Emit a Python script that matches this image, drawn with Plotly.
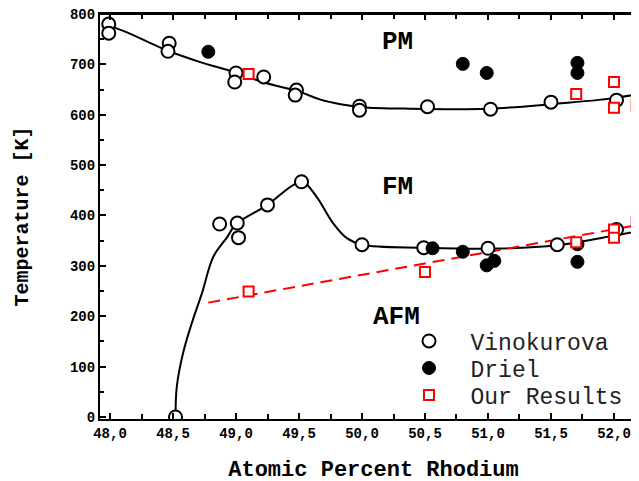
import plotly.graph_objects as go

# atomic percent Rh / temperature in K
vino_x = [47.99, 47.99, 48.47, 48.46, 49.0, 48.99, 49.22, 49.48, 49.47, 49.98, 49.98,
          50.52, 51.02, 51.5, 52.02,
          48.52, 48.87, 49.01, 49.02, 49.25, 49.52, 50.0, 50.49, 51.0, 51.55, 52.02]
vino_y = [780, 762, 742, 726, 683, 665, 675, 649, 639, 617, 609,
          616, 611, 625, 629,
          0, 383, 385, 356, 421, 467, 342, 336, 335, 342, 372]

driel_x = [48.78, 50.8, 50.99, 51.71, 51.71,
           50.56, 50.8, 50.99, 51.05, 51.71, 51.71]
driel_y = [725, 701, 683, 703, 683,
           335, 328, 301, 310, 343, 308]

ours_x = [49.1, 51.7, 52.0, 52.0, 52.18,
          49.1, 50.5, 51.7, 52.0, 52.0, 52.18]
ours_y = [681, 641, 665, 614, 619,
          249, 288, 347, 372, 356, 387]

# guide curves
pm_x = [47.99, 48.13, 48.45, 48.71, 48.98, 49.21, 49.51, 49.67, 49.83, 50.0, 50.38,
        51.0, 51.5, 52.0, 52.25]
pm_y = [777, 764, 728, 705, 685, 665, 645, 630, 621, 615, 612,
        612, 621, 633, 644]
fm_x = [48.52, 48.53, 48.58, 48.65, 48.73, 48.82, 48.93, 49.0, 49.25, 49.45, 49.53,
        49.64, 49.77, 49.88, 50.0, 50.5, 51.0, 51.55, 52.0, 52.25]
fm_y = [0, 60, 127, 187, 246, 318, 357, 383, 421, 460, 467,
        437, 385, 355, 342, 336, 334, 341, 360, 372]
fit_x = [48.78, 52.25]
fit_y = [227, 384]

phase_labels = ["PM", "FM", "AFM"]
phase_x = [50.28, 50.28, 50.27]
phase_y = [744, 456, 199]

mono = "Courier New, Liberation Mono, monospace"

fig = go.Figure()
fig.add_scatter(x=pm_x, y=pm_y, mode="lines", line=dict(color="black", width=2, shape="spline"),
                showlegend=False, hoverinfo="skip")
fig.add_scatter(x=fm_x, y=fm_y, mode="lines", line=dict(color="black", width=2, shape="spline"),
                showlegend=False, hoverinfo="skip")
fig.add_scatter(x=fit_x, y=fit_y, mode="lines", line=dict(color="red", width=2, dash="12px,7px"),
                showlegend=False, hoverinfo="skip")

fig.add_scatter(x=vino_x, y=vino_y, mode="markers", name="Vinokurova", legend="legend",
                marker=dict(symbol="circle", size=13, color="white", line=dict(color="black", width=2)))
fig.add_scatter(x=driel_x, y=driel_y, mode="markers", name="Driel", legend="legend2",
                marker=dict(symbol="circle", size=13, color="black", line=dict(color="black", width=1)))
fig.add_scatter(x=ours_x, y=ours_y, mode="markers", name="Our Results", legend="legend3",
                marker=dict(symbol="square", size=10, color="white", line=dict(color="red", width=2)))

for lab, lx, ly in zip(phase_labels, phase_x, phase_y):
    fig.add_annotation(x=lx, y=ly, text=f"<b>{lab}</b>", showarrow=False,
                       font=dict(family=mono, size=26, color="black"))

# top frame line
fig.add_shape(type="line", xref="paper", yref="paper", x0=0, x1=1, y0=1, y1=1,
              line=dict(color="black", width=2), layer="above")

# one legend per entry so the rows can sit closer together
leg_style = dict(xanchor="left", yanchor="middle", itemwidth=73, bgcolor="rgba(0,0,0,0)",
                 font=dict(family=mono, size=23, color="#222"))

x_range = [47.9206, 52.262]

fig.update_layout(
    width=639,
    height=481,
    margin=dict(l=92, r=0, t=6, b=70),
    plot_bgcolor="white",
    paper_bgcolor="white",
    separators=",.",
    font=dict(family=mono, color="black"),
    legend=dict(x=0.5256, y=0.1926, **leg_style),
    legend2=dict(x=0.5256, y=0.1259, **leg_style),
    legend3=dict(x=0.5256, y=0.0593, **leg_style),
    xaxis=dict(
        range=x_range,
        dtick=0.5, tick0=48, tickformat=".1f",
        ticks="inside", ticklen=6, tickwidth=1.5, tickcolor="black",
        minor=dict(dtick=0.25, ticks="inside", ticklen=5, tickcolor="black"),
        showline=True, linecolor="black", linewidth=2, mirror="ticks",
        showgrid=False, zeroline=False, automargin=False, ticklabeloverflow="allow",
        tickfont=dict(family=mono, size=14, weight="bold"),
        title=dict(text="<b>Atomic Percent Rhodium</b>", font=dict(family=mono, size=22), standoff=20),
    ),
    yaxis=dict(
        range=[-4, 800],
        dtick=100, tick0=0,
        ticks="inside", ticklen=6, tickwidth=1.5, tickcolor="black",
        minor=dict(dtick=50, ticks="inside", ticklen=4, tickcolor="black"),
        showline=True, linecolor="black", linewidth=2, mirror=False,
        showgrid=False, zeroline=False, automargin=False, ticklabeloverflow="allow",
        tickfont=dict(family=mono, size=14, weight="bold"),
        title=dict(text="<b>Temperature [K]</b>", font=dict(family=mono, size=20), standoff=36),
    ),
)

fig.write_html("out.html")
